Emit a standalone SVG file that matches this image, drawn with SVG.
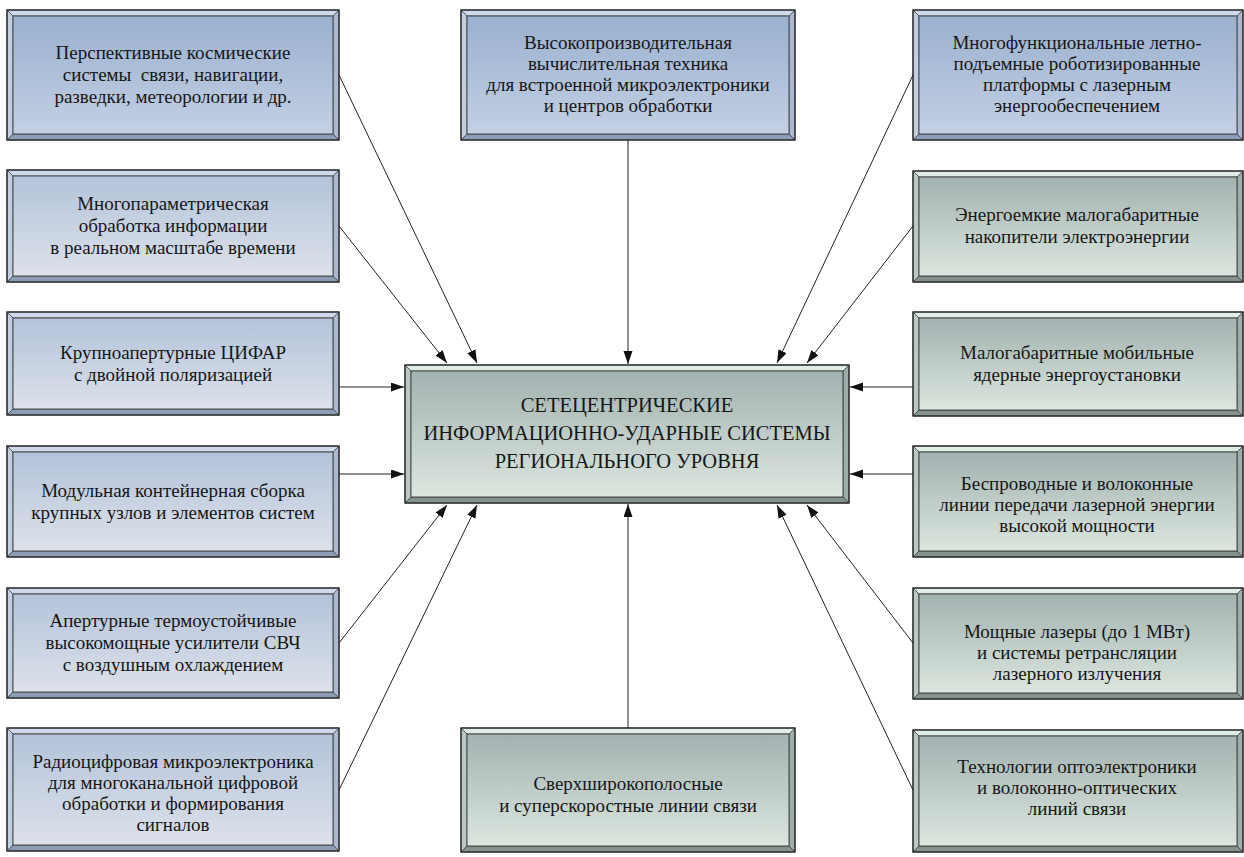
<svg xmlns="http://www.w3.org/2000/svg" width="1244" height="857" viewBox="0 0 1244 857">
<defs>
<linearGradient id="gBlueA" x1="0" y1="0" x2="0" y2="1"><stop offset="0" stop-color="#9ab0cf"/><stop offset="1" stop-color="#c3d0e4"/></linearGradient>
<linearGradient id="gBlueB" x1="0" y1="0" x2="0" y2="1"><stop offset="0" stop-color="#b3c3da"/><stop offset="1" stop-color="#dde1ea"/></linearGradient>
<linearGradient id="gGreen" x1="0" y1="0" x2="0" y2="1"><stop offset="0" stop-color="#a2b2b0"/><stop offset="1" stop-color="#dce6df"/></linearGradient>
<marker id="arr" markerUnits="userSpaceOnUse" markerWidth="14" markerHeight="10" refX="13" refY="4.5" orient="auto"><path d="M0,0 L13,4.5 L0,9 z" fill="#111"/></marker>
<style>
.o{fill:none;stroke:#2e2e2e;stroke-width:1.4}
.bt{stroke:#3a3a3a;stroke-width:0.7}
.b .t{fill:#cfd9e9}.b .l{fill:#c2cee1}.b .r{fill:#aab9d0}.b .m{fill:#8e9db6}
.g .t{fill:#e0ede6}.g .l{fill:#b9c9c5}.g .r{fill:#9cadaa}.g .m{fill:#85938f}
.in{stroke:#3a3a3a;stroke-width:0.9}
text{font-family:"Liberation Serif","Times New Roman",serif;font-size:19px;fill:#161616;text-anchor:middle}
.c text{font-size:20.5px}
.cn line{stroke:#222;stroke-width:1;marker-end:url(#arr)}
</style>
</defs>

<g id="L1" class="b">
<polygon class="t bt" points="7,10 339,10 333,16 13,16"/><polygon class="l bt" points="7,10 13,16 13,134 7,140"/><polygon class="r bt" points="339,10 339,140 333,134 333,16"/><polygon class="m bt" points="7,140 13,134 333,134 339,140"/>
<rect class="in" x="13" y="16" width="320" height="118" fill="url(#gBlueA)"/><rect class="o" x="7" y="10" width="332" height="130"/>
<text x="173"><tspan y="59">Перспективные космические</tspan><tspan x="173" y="81">системы&#160; связи, навигации,</tspan><tspan x="173" y="103">разведки, метеорологии и др.</tspan></text>
</g>

<g id="L2" class="b">
<polygon class="t bt" points="7,170 339,170 333,176 13,176"/><polygon class="l bt" points="7,170 13,176 13,276 7,282"/><polygon class="r bt" points="339,170 339,282 333,276 333,176"/><polygon class="m bt" points="7,282 13,276 333,276 339,282"/>
<rect class="in" x="13" y="176" width="320" height="100" fill="url(#gBlueB)"/><rect class="o" x="7" y="170" width="332" height="112"/>
<text x="173"><tspan y="210">Многопараметрическая</tspan><tspan x="173" y="232">обработка информации</tspan><tspan x="173" y="254">в реальном масштабе времени</tspan></text>
</g>

<g id="L3" class="b">
<polygon class="t bt" points="7,312 339,312 333,318 13,318"/><polygon class="l bt" points="7,312 13,318 13,409 7,415"/><polygon class="r bt" points="339,312 339,415 333,409 333,318"/><polygon class="m bt" points="7,415 13,409 333,409 339,415"/>
<rect class="in" x="13" y="318" width="320" height="91" fill="url(#gBlueB)"/><rect class="o" x="7" y="312" width="332" height="103"/>
<text x="173"><tspan y="359">Крупноапертурные ЦИФАР</tspan><tspan x="173" y="381">с двойной поляризацией</tspan></text>
</g>

<g id="L4" class="b">
<polygon class="t bt" points="7,446 339,446 333,452 13,452"/><polygon class="l bt" points="7,446 13,452 13,551 7,557"/><polygon class="r bt" points="339,446 339,557 333,551 333,452"/><polygon class="m bt" points="7,557 13,551 333,551 339,557"/>
<rect class="in" x="13" y="452" width="320" height="99" fill="url(#gBlueB)"/><rect class="o" x="7" y="446" width="332" height="111"/>
<text x="173"><tspan y="497">Модульная контейнерная сборка</tspan><tspan x="173" y="519">крупных узлов и элементов систем</tspan></text>
</g>

<g id="L5" class="b">
<polygon class="t bt" points="7,588 339,588 333,594 13,594"/><polygon class="l bt" points="7,588 13,594 13,692 7,698"/><polygon class="r bt" points="339,588 339,698 333,692 333,594"/><polygon class="m bt" points="7,698 13,692 333,692 339,698"/>
<rect class="in" x="13" y="594" width="320" height="98" fill="url(#gBlueB)"/><rect class="o" x="7" y="588" width="332" height="110"/>
<text x="173"><tspan y="627">Апертурные термоустойчивые</tspan><tspan x="173" y="649">высокомощные усилители СВЧ</tspan><tspan x="173" y="671">с воздушным охлаждением</tspan></text>
</g>

<g id="L6" class="b">
<polygon class="t bt" points="7,728 339,728 333,734 13,734"/><polygon class="l bt" points="7,728 13,734 13,845 7,851"/><polygon class="r bt" points="339,728 339,851 333,845 333,734"/><polygon class="m bt" points="7,851 13,845 333,845 339,851"/>
<rect class="in" x="13" y="734" width="320" height="111" fill="url(#gBlueB)"/><rect class="o" x="7" y="728" width="332" height="123"/>
<text x="173"><tspan y="768">Радиоцифровая микроэлектроника</tspan><tspan x="173" y="789">для многоканальной цифровой</tspan><tspan x="173" y="810">обработки и формирования</tspan><tspan x="173" y="831">сигналов</tspan></text>
</g>

<g id="T1" class="b">
<polygon class="t bt" points="461,10 795,10 789,16 467,16"/><polygon class="l bt" points="461,10 467,16 467,134 461,140"/><polygon class="r bt" points="795,10 795,140 789,134 789,16"/><polygon class="m bt" points="461,140 467,134 789,134 795,140"/>
<rect class="in" x="467" y="16" width="322" height="118" fill="url(#gBlueA)"/><rect class="o" x="461" y="10" width="334" height="130"/>
<text x="628"><tspan y="49">Высокопроизводительная</tspan><tspan x="628" y="70">вычислительная техника</tspan><tspan x="628" y="91">для встроенной микроэлектроники</tspan><tspan x="628" y="112">и центров обработки</tspan></text>
</g>

<g id="TR1" class="b">
<polygon class="t bt" points="913,10 1243,10 1237,16 919,16"/><polygon class="l bt" points="913,10 919,16 919,134 913,140"/><polygon class="r bt" points="1243,10 1243,140 1237,134 1237,16"/><polygon class="m bt" points="913,140 919,134 1237,134 1243,140"/>
<rect class="in" x="919" y="16" width="318" height="118" fill="url(#gBlueA)"/><rect class="o" x="913" y="10" width="330" height="130"/>
<text x="1077"><tspan y="49">Многофункциональные летно-</tspan><tspan x="1077" y="70">подъемные роботизированные</tspan><tspan x="1077" y="91">платформы с лазерным</tspan><tspan x="1077" y="112">энергообеспечением</tspan></text>
</g>

<g id="R2" class="g">
<polygon class="t bt" points="913,171 1243,171 1237,177 919,177"/><polygon class="l bt" points="913,171 919,177 919,276 913,282"/><polygon class="r bt" points="1243,171 1243,282 1237,276 1237,177"/><polygon class="m bt" points="913,282 919,276 1237,276 1243,282"/>
<rect class="in" x="919" y="177" width="318" height="99" fill="url(#gGreen)"/><rect class="o" x="913" y="171" width="330" height="111"/>
<text x="1077"><tspan y="221">Энергоемкие малогабаритные</tspan><tspan x="1077" y="243">накопители электроэнергии</tspan></text>
</g>

<g id="R3" class="g">
<polygon class="t bt" points="913,312 1243,312 1237,318 919,318"/><polygon class="l bt" points="913,312 919,318 919,410 913,416"/><polygon class="r bt" points="1243,312 1243,416 1237,410 1237,318"/><polygon class="m bt" points="913,416 919,410 1237,410 1243,416"/>
<rect class="in" x="919" y="318" width="318" height="92" fill="url(#gGreen)"/><rect class="o" x="913" y="312" width="330" height="104"/>
<text x="1077"><tspan y="359">Малогабаритные мобильные</tspan><tspan x="1077" y="381">ядерные энергоустановки</tspan></text>
</g>

<g id="R4" class="g">
<polygon class="t bt" points="913,446 1243,446 1237,452 919,452"/><polygon class="l bt" points="913,446 919,452 919,551 913,557"/><polygon class="r bt" points="1243,446 1243,557 1237,551 1237,452"/><polygon class="m bt" points="913,557 919,551 1237,551 1243,557"/>
<rect class="in" x="919" y="452" width="318" height="99" fill="url(#gGreen)"/><rect class="o" x="913" y="446" width="330" height="111"/>
<text x="1077"><tspan y="490">Беспроводные и волоконные</tspan><tspan x="1077" y="511">линии передачи лазерной энергии</tspan><tspan x="1077" y="532">высокой мощности</tspan></text>
</g>

<g id="R5" class="g">
<polygon class="t bt" points="913,588 1243,588 1237,594 919,594"/><polygon class="l bt" points="913,588 919,594 919,693 913,699"/><polygon class="r bt" points="1243,588 1243,699 1237,693 1237,594"/><polygon class="m bt" points="913,699 919,693 1237,693 1243,699"/>
<rect class="in" x="919" y="594" width="318" height="99" fill="url(#gGreen)"/><rect class="o" x="913" y="588" width="330" height="111"/>
<text x="1077"><tspan y="638">Мощные лазеры (до 1 МВт)</tspan><tspan x="1077" y="659">и системы ретрансляции</tspan><tspan x="1077" y="680">лазерного излучения</tspan></text>
</g>

<g id="R6" class="g">
<polygon class="t bt" points="913,730 1243,730 1237,736 919,736"/><polygon class="l bt" points="913,730 919,736 919,846 913,852"/><polygon class="r bt" points="1243,730 1243,852 1237,846 1237,736"/><polygon class="m bt" points="913,852 919,846 1237,846 1243,852"/>
<rect class="in" x="919" y="736" width="318" height="110" fill="url(#gGreen)"/><rect class="o" x="913" y="730" width="330" height="122"/>
<text x="1077"><tspan y="773">Технологии оптоэлектроники</tspan><tspan x="1077" y="794">и волоконно-оптических</tspan><tspan x="1077" y="815">линий связи</tspan></text>
</g>

<g id="B1" class="g">
<polygon class="t bt" points="461,728 795,728 789,734 467,734"/><polygon class="l bt" points="461,728 467,734 467,846 461,852"/><polygon class="r bt" points="795,728 795,852 789,846 789,734"/><polygon class="m bt" points="461,852 467,846 789,846 795,852"/>
<rect class="in" x="467" y="734" width="322" height="112" fill="url(#gGreen)"/><rect class="o" x="461" y="728" width="334" height="124"/>
<text x="628"><tspan y="790">Сверхширокополосные</tspan><tspan x="628" y="812">и суперскоростные линии связи</tspan></text>
</g>

<g id="C" class="g c">
<polygon class="t bt" points="405,365 849,365 843,371 411,371"/><polygon class="l bt" points="405,365 411,371 411,497 405,503"/><polygon class="r bt" points="849,365 849,503 843,497 843,371"/><polygon class="m bt" points="405,503 411,497 843,497 849,503"/>
<rect class="in" x="411" y="371" width="432" height="126" fill="url(#gGreen)"/><rect class="o" x="405" y="365" width="444" height="138"/>
<text x="627"><tspan y="412">СЕТЕЦЕНТРИЧЕСКИЕ</tspan><tspan x="627" y="440">ИНФОРМАЦИОННО-УДАРНЫЕ СИСТЕМЫ</tspan><tspan x="627" y="468">РЕГИОНАЛЬНОГО УРОВНЯ</tspan></text>
</g>

<g id="connectors" class="cn">
<line x1="339" y1="75" x2="477" y2="363"/>
<line x1="339" y1="226" x2="447" y2="363"/>
<line x1="339" y1="387" x2="404" y2="387"/>
<line x1="339" y1="474" x2="404" y2="474"/>
<line x1="339" y1="643" x2="447" y2="505"/>
<line x1="339" y1="790" x2="477" y2="505"/>
<line x1="628" y1="140" x2="628" y2="364"/>
<line x1="628" y1="728" x2="628" y2="504"/>
<line x1="913" y1="75" x2="777" y2="363"/>
<line x1="913" y1="226" x2="807" y2="363"/>
<line x1="913" y1="387" x2="850" y2="387"/>
<line x1="913" y1="474" x2="850" y2="474"/>
<line x1="913" y1="643" x2="807" y2="505"/>
<line x1="913" y1="790" x2="777" y2="505"/>
</g>
</svg>
